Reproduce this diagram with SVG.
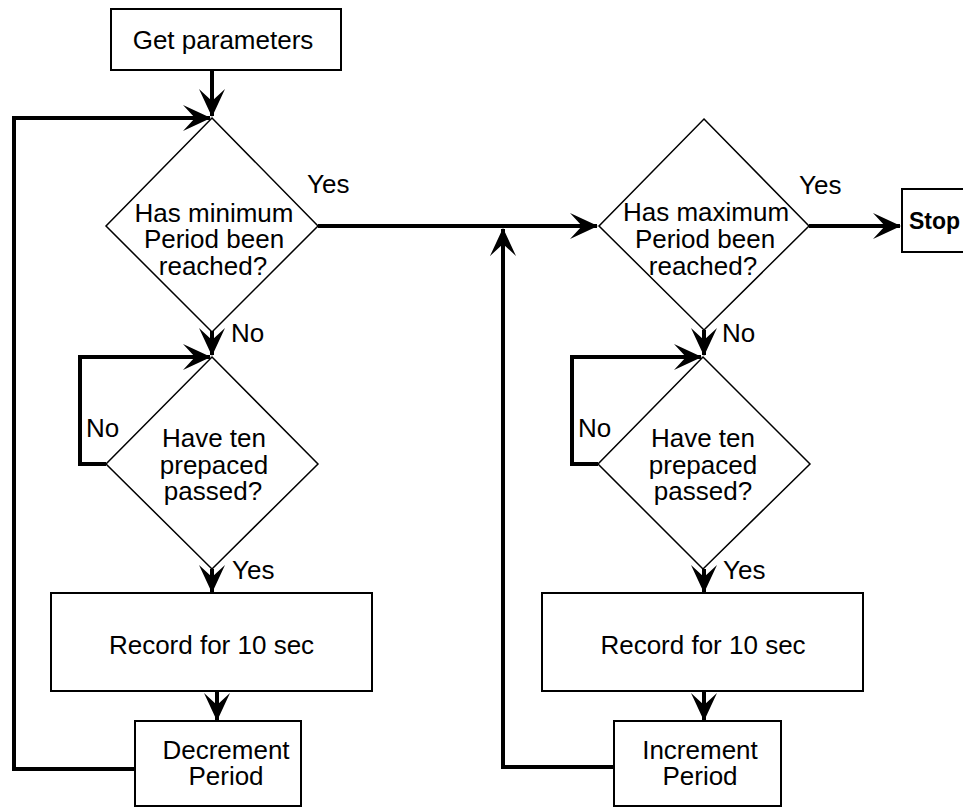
<svg xmlns="http://www.w3.org/2000/svg" width="963" height="807" viewBox="0 0 963 807">
<defs>
<marker id="arr" markerUnits="userSpaceOnUse" markerWidth="32" markerHeight="30" viewBox="-30 -15 32 30" refX="0" refY="0" orient="auto">
<path d="M1,0 L-27,-13 L-15,0 L-27,13 Z" fill="#000"/>
</marker>
</defs>
<style>
.box{fill:#fff;stroke:#000;stroke-width:2}
.dia{fill:#fff;stroke:#000;stroke-width:1.5}
.con{fill:none;stroke:#000;stroke-width:4;marker-end:url(#arr)}
text{font-family:"Liberation Sans",Arial,sans-serif;font-size:26px;fill:#000}
.c{text-anchor:middle}
</style>
<rect width="963" height="807" fill="#fff"/>
<g id="connectors">
<line class="con" x1="212" y1="70" x2="212" y2="116"/>
<polyline class="con" points="135,769 14,769 14,118 210,118"/>
<line class="con" x1="212" y1="331" x2="212" y2="355"/>
<polyline class="con" points="106,464 80,464 80,357 210,357"/>
<line class="con" x1="212" y1="569" x2="212" y2="592"/>
<line class="con" x1="217" y1="691" x2="217" y2="720"/>
<line class="con" x1="318" y1="226" x2="597" y2="226"/>
<polyline class="con" points="614,767 503,767 503,229"/>
<line class="con" x1="809" y1="226" x2="900" y2="226"/>
<line class="con" x1="704" y1="330" x2="704" y2="355"/>
<polyline class="con" points="598,464 572,464 572,357 701,357"/>
<line class="con" x1="704" y1="569" x2="704" y2="592"/>
<line class="con" x1="704" y1="691" x2="704" y2="720"/>
<text x="307" y="193">Yes</text>
<text x="231" y="342">No</text>
<text x="86" y="437">No</text>
<text x="232" y="579">Yes</text>
<text x="799" y="194">Yes</text>
<text x="722" y="342">No</text>
<text x="578" y="437">No</text>
<text x="723" y="579">Yes</text>
</g>
<g id="get-parameters">
<rect class="box" x="111" y="9" width="230" height="61"/>
<text class="c" x="223" y="49">Get parameters</text>
</g>
<g id="min-period">
<polygon class="dia" points="212,118 318,226 212,332 106,226"/>
<text class="c" x="214" y="222">Has minimum</text>
<text class="c" x="214" y="248">Period been</text>
<text class="c" x="213" y="275">reached?</text>
</g>
<g id="ten-prepaced-left">
<polygon class="dia" points="212,357 318,464 212,569 106,464"/>
<text class="c" x="214" y="447">Have ten</text>
<text class="c" x="214" y="474">prepaced</text>
<text class="c" x="213" y="500">passed?</text>
</g>
<g id="record-left">
<rect class="box" x="51" y="593" width="321" height="98"/>
<text class="c" x="211.5" y="654">Record for 10 sec</text>
</g>
<g id="decrement">
<rect class="box" x="135" y="721" width="166" height="85"/>
<text class="c" x="226" y="759">Decrement</text>
<text class="c" x="226" y="785">Period</text>
</g>
<g id="max-period">
<polygon class="dia" points="704,119 809,226 704,330 599,226"/>
<text class="c" x="706" y="221">Has maximum</text>
<text class="c" x="705" y="248">Period been</text>
<text class="c" x="703" y="275">reached?</text>
</g>
<g id="stop">
<rect class="box" x="902" y="189" width="70" height="63"/>
<text x="909" y="229" style="font-weight:bold;font-size:23px">Stop</text>
</g>
<g id="ten-prepaced-right">
<polygon class="dia" points="703,357 810,464 703,569 598,464"/>
<text class="c" x="703" y="447">Have ten</text>
<text class="c" x="703" y="474">prepaced</text>
<text class="c" x="703" y="500">passed?</text>
</g>
<g id="record-right">
<rect class="box" x="542" y="593" width="321" height="98"/>
<text class="c" x="703" y="654">Record for 10 sec</text>
</g>
<g id="increment">
<rect class="box" x="614" y="721" width="167" height="85"/>
<text class="c" x="700" y="759">Increment</text>
<text class="c" x="700" y="785">Period</text>
</g>
</svg>
